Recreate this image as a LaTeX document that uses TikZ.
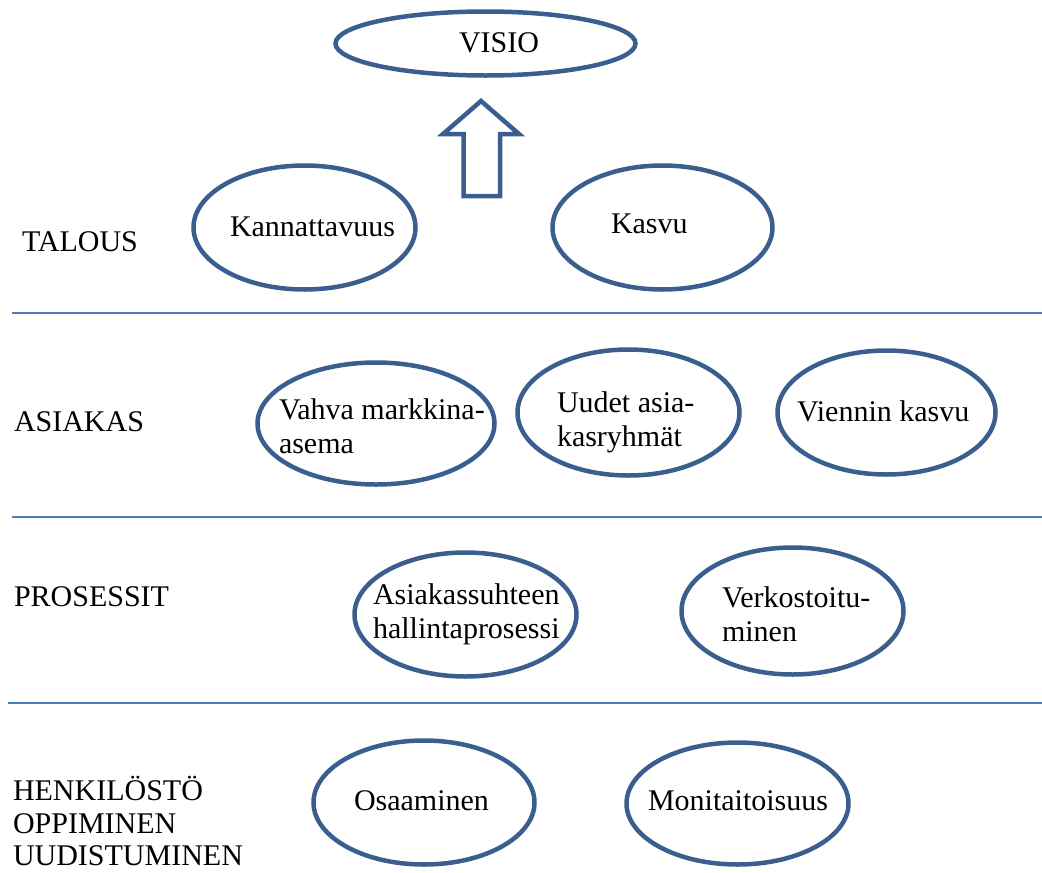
\documentclass[tikz,border=0pt]{standalone}
\usepackage{fontspec}
\setmainfont{Liberation Serif}
\usetikzlibrary{shapes.geometric}
\definecolor{ovalblue}{HTML}{3A5F8E}
\definecolor{rulerblue}{HTML}{4A7EBB}
\newcommand{\twolines}[2]{\begin{tabular}[t]{@{}l@{}}#1\\#2\end{tabular}}
\tikzset{
  oval/.style={ellipse, draw=ovalblue, line width=4.5pt, inner sep=0pt},
  lbl/.style={anchor=base west, inner sep=0pt, outer sep=0pt, text=black,
              font=\fontsize{30}{34}\selectfont},
  divider/.style={draw=rulerblue, line width=1.8pt},
  blockarrow/.style={draw=ovalblue, line width=4.5pt, line join=miter}
}
\begin{document}
\begin{tikzpicture}[x=1pt,y=-1pt]
\useasboundingbox (0,0) rectangle (1042,873);

% vision at the top
\node[oval, minimum width=300pt, minimum height=64pt] (visio) at (485.5,43.5) {};
\node[lbl] (visiot) at (459,52) {VISIO};

% hollow block arrow pointing to the vision
\coordinate (tip) at (481,101);
\coordinate (hl) at (443,134);
\coordinate (hr) at (519,134);
\coordinate (sl) at (463.5,134);
\coordinate (sr) at (500,134);
\coordinate (bl) at (463.5,196);
\coordinate (br) at (500,196);
\draw[blockarrow] (tip) -- (hr) -- (sr) -- (br) -- (bl) -- (sl) -- (hl) -- cycle;

% TALOUS
\node[lbl] (talous) at (22,251) {TALOUS};
\node[oval, minimum width=222pt, minimum height=124pt] (kan) at (304.5,227.5) {};
\node[lbl] (kant) at (230,236) {Kannattavuus};
\node[oval, minimum width=220pt, minimum height=124pt] (kasvu) at (662.5,227.5) {};
\node[lbl] (kasvut) at (611,233) {Kasvu};

\coordinate (d1l) at (12,313);
\coordinate (d1r) at (1042,313);
\draw[divider] (d1l) -- (d1r);

% ASIAKAS
\node[lbl] (asiakas) at (14,431) {ASIAKAS};
\node[oval, minimum width=237pt, minimum height=122pt] (vahva) at (376,423.5) {};
\node[lbl] (vahvat) at (279,419) {\twolines{Vahva markkina-}{asema}};
\node[oval, minimum width=222pt, minimum height=126pt] (uudet) at (628.5,412.5) {};
\node[lbl] (uudett) at (557,412) {\twolines{Uudet asia-}{kasryhmät}};
\node[oval, minimum width=218pt, minimum height=124pt] (vienti) at (886.5,412.5) {};
\node[lbl] (vientit) at (797,421) {Viennin kasvu};

\coordinate (d2l) at (12,517);
\coordinate (d2r) at (1042,517);
\draw[divider] (d2l) -- (d2r);

% PROSESSIT
\node[lbl] (prosessit) at (14,606) {PROSESSIT};
\node[oval, minimum width=222pt, minimum height=124pt] (ashal) at (465.5,614.5) {};
\node[lbl] (ashalt) at (373,604) {\twolines{Asiakassuhteen}{hallintaprosessi}};
\node[oval, minimum width=222pt, minimum height=127pt] (verko) at (792.5,611) {};
\node[lbl] (verkot) at (722,607) {\twolines{Verkostoitu-}{minen}};

\coordinate (d3l) at (8,703);
\coordinate (d3r) at (1042,703);
\draw[divider] (d3l) -- (d3r);

% HENKILÖSTÖ: three stacked caps lines near the bottom edge
\node[lbl, anchor=south west, align=left, font=\fontsize{30}{32.5}\selectfont] (henk) at (13,866)
  {HENKILÖSTÖ\\OPPIMINEN\\UUDISTUMINEN};
\node[oval, minimum width=221pt, minimum height=124pt] (osa) at (424,802.5) {};
\node[lbl] (osat) at (354,810) {Osaaminen};
\node[oval, minimum width=222pt, minimum height=122pt] (moni) at (737.5,803.5) {};
\node[lbl] (monit) at (648,810) {Monitaitoisuus};
\end{tikzpicture}
\end{document}
